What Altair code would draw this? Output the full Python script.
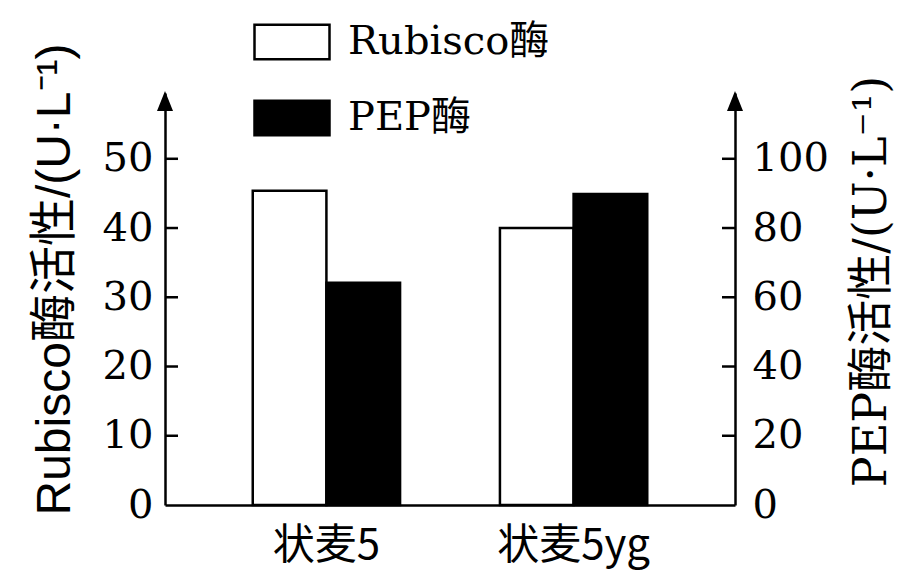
import altair as alt
import pandas as pd

categories = ["状麦5", "状麦5yg"]
enzymes = ["Rubisco酶", "PEP酶"]
rubisco_values = [45.4, 40.0]
pep_values = [64.2, 89.8]
left_tick_values = [10, 20, 30, 40, 50]
left_label_values = [0, 10, 20, 30, 40, 50]
right_tick_values = [20, 40, 60, 80, 100]
right_label_values = [0, 20, 40, 60, 80, 100]
left_max = 59.5
right_max = 119.0
left_title = "Rubisco酶活性/(U·L⁻¹)"
right_title = "PEP酶活性/(U·L⁻¹)"

rub_df = pd.DataFrame({"cat": categories, "enzyme": enzymes[0], "v": rubisco_values})
pep_df = pd.DataFrame({"cat": categories, "enzyme": enzymes[1], "v": pep_values})
lt_df = pd.DataFrame({"v": left_tick_values})
rt_df = pd.DataFrame({"v": right_tick_values})
one_df = pd.DataFrame({"a": [0]})

SERIF = "DejaVu Serif, Noto Sans CJK SC"
SANS = "Liberation Sans, Noto Sans CJK SC"
CJK = "Noto Sans CJK SC"

x_enc = alt.X(
    "cat:N", sort=categories,
    scale=alt.Scale(domain=categories, paddingInner=0.404, paddingOuter=0.355),
    axis=alt.Axis(title=None, labelAngle=0, ticks=False, labelFont=CJK, labelFontSize=42,
                  labelPadding=20, labelColor="black", domainColor="black", domainWidth=2.5,
                  labelLimit=400),
)
xoff = alt.XOffset("enzyme:N", scale=alt.Scale(domain=enzymes, paddingInner=0, paddingOuter=0))
fill = alt.Fill(
    "enzyme:N",
    scale=alt.Scale(domain=enzymes, range=["white", "black"]),
    legend=alt.Legend(
        title=None, orient="none", legendX=88, legendY=-90, direction="vertical",
        symbolType="M-1,-0.46H1V0.46H-1Z", symbolSize=5625, symbolStrokeColor="black",
        symbolStrokeWidth=2.5, symbolOpacity=1,
        labelFont=SERIF, labelFontSize=40, labelColor="black", labelLimit=500, labelOffset=17,
        rowPadding=14, padding=0,
    ),
)

yl_scale = alt.Scale(domain=[0, left_max], nice=False, zero=True)
yr_scale = alt.Scale(domain=[0, right_max], nice=False, zero=True)

yl_axis = alt.Axis(
    orient="left", values=left_label_values, ticks=False, grid=False,
    domainColor="black", domainWidth=2.5,
    labelFont=SERIF, labelFontSize=40, labelColor="black", labelPadding=12,
    labelFlush=False, labelOverlap=False,
    title=left_title, titleFont=SANS, titleFontSize=48, titleFontWeight="normal",
    titleColor="black", titleAngle=270, titleX=-110, titleY=186,
    titleBaseline="middle", titleAlign="center",
)
yr_axis = alt.Axis(
    orient="right", values=right_label_values, ticks=False, grid=False,
    domainColor="black", domainWidth=2.5,
    labelFont=SERIF, labelFontSize=40, labelColor="black", labelPadding=17,
    labelFlush=False, labelOverlap=False,
    title=right_title, titleFont=SERIF, titleFontSize=46, titleFontWeight="normal",
    titleColor="black", titleAngle=270, titleX=136, titleY=188,
    titleBaseline="middle", titleAlign="center",
)

rub_bar = alt.Chart(rub_df).mark_bar(stroke="black", strokeWidth=2.5, opacity=1).encode(
    x=x_enc, xOffset=xoff,
    y=alt.Y("v:Q", scale=yl_scale, axis=yl_axis),
    fill=fill,
)
left_ticks = alt.Chart(lt_df).mark_rule(color="black", strokeWidth=2.5).encode(
    x=alt.value(0), x2=alt.value(13), y=alt.Y("v:Q", scale=yl_scale, axis=yl_axis)
)
arrow_shape = "M0,0L-0.4,1L0.4,1Z"
left_arrow = alt.Chart(one_df).mark_point(filled=True, color="black", opacity=1, shape=arrow_shape, size=1600).encode(
    x=alt.value(0), y=alt.value(-2)
)

pep_bar = alt.Chart(pep_df).mark_bar(stroke="black", strokeWidth=2.5, opacity=1).encode(
    x=x_enc, xOffset=xoff,
    y=alt.Y("v:Q", scale=yr_scale, axis=yr_axis),
    fill=fill,
)
right_ticks = alt.Chart(rt_df).mark_rule(color="black", strokeWidth=2.5).encode(
    x=alt.value(557), x2=alt.value(570), y=alt.Y("v:Q", scale=yr_scale, axis=yr_axis)
)
right_arrow = alt.Chart(one_df).mark_point(filled=True, color="black", opacity=1, shape=arrow_shape, size=1600).encode(
    x=alt.value(570), y=alt.value(-2)
)

left_group = alt.layer(rub_bar, left_ticks, left_arrow)
right_group = alt.layer(pep_bar, right_ticks, right_arrow)

chart = alt.layer(left_group, right_group).resolve_scale(y="independent").properties(
    width=570, height=412,
    autosize=alt.AutoSizeParams(type="none"),
    padding={"left": 157, "top": 85, "right": 160, "bottom": 66},
    background="white",
).configure_view(stroke=None)

chart.save("out.html", embed_options={"renderer": "svg", "actions": False})
